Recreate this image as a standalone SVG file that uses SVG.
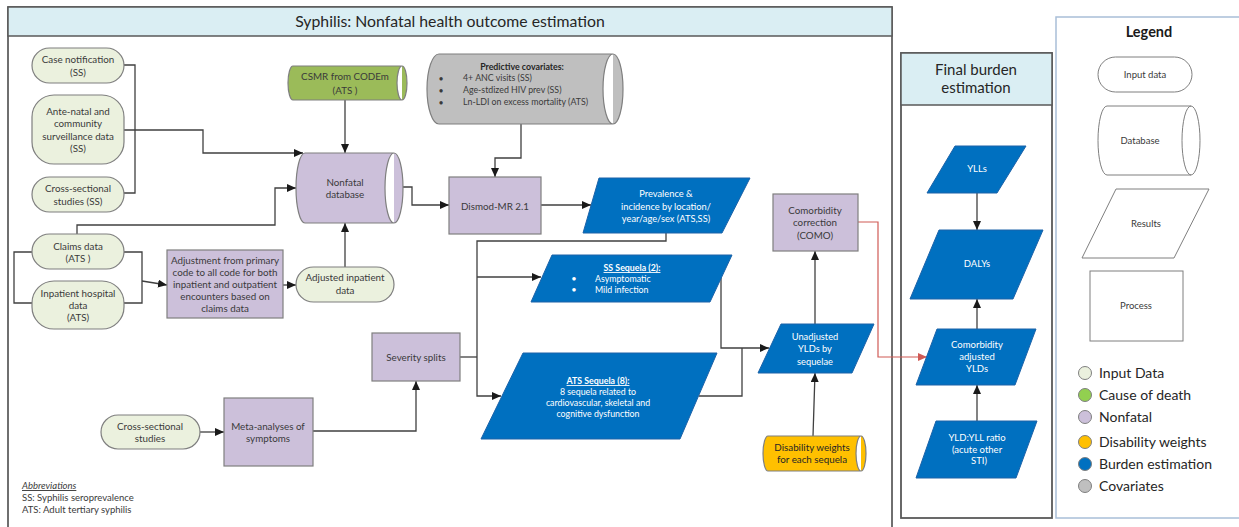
<svg xmlns="http://www.w3.org/2000/svg" width="1239" height="527" viewBox="0 0 1239 527">
<style>
text{font-family:Lato,"Liberation Sans",Arial,sans-serif;font-size:9.8px;fill:#3a3a3a;text-anchor:middle}
.w{fill:#ffffff;font-size:9.3px}
.s{text-anchor:start}
.b{font-weight:bold}
.u{text-decoration:underline}
.h{font-size:15px;fill:#262626}
.lg{font-size:14px;fill:#262626;text-anchor:start}
.sm{font-size:9.5px}
.cv{font-size:8.8px}
.inp{fill:#ebf1de;stroke:#7f7f7f;stroke-width:1.2}
.pur{fill:#ccc0da;stroke:#7f7f7f;stroke-width:1.2}
.blu{fill:#0070c0;stroke:#1c62a8;stroke-width:1}
.leg{fill:#ffffff;stroke:#7f7f7f;stroke-width:1}
.c{fill:none;stroke:#404040;stroke-width:1.3}
.r{fill:none;stroke:#d05a55;stroke-width:1.2}
.band{fill:#daeef3;stroke:#595959;stroke-width:1.5}
</style>
<defs>
<marker id="a" markerUnits="userSpaceOnUse" markerWidth="9" markerHeight="8" refX="9" refY="4" viewBox="0 0 9 8" orient="auto"><path d="M0,0 L9,4 L0,8 z" fill="#1a1a1a"/></marker>
<marker id="ar" markerUnits="userSpaceOnUse" markerWidth="9" markerHeight="8" refX="9" refY="4" viewBox="0 0 9 8" orient="auto"><path d="M0,0 L9,4 L0,8 z" fill="#d05a55"/></marker>
</defs>
<rect width="1239" height="527" fill="#ffffff"/>

<g id="frame-main">
<rect x="8" y="7" width="884" height="540" fill="#ffffff" stroke="#404040" stroke-width="1.5"/>
<rect x="8" y="7" width="884" height="29" class="band"/>
<text x="450" y="27" class="h" style="font-size:15.8px">Syphilis: Nonfatal health outcome estimation</text>
</g>
<g id="frame-final">
<rect x="901" y="53" width="151" height="465" fill="#ffffff" stroke="#595959" stroke-width="1.8"/>
<rect x="901" y="53" width="151" height="52" class="band"/>
<text x="976" y="75" class="h">Final burden</text>
<text x="976" y="93" class="h">estimation</text>
</g>
<g id="frame-legend">
<rect x="1056" y="17" width="190" height="501" fill="#ffffff" stroke="#a9bfd8" stroke-width="1.5"/>
<text x="1149" y="37" class="b" style="font-size:14.5px;fill:#1a1a1a">Legend</text>
<rect x="1098" y="57" width="94" height="35" rx="17.5" class="leg"/>
<text x="1145" y="78" class="sm">Input data</text>
<path d="M1107,106 L1191,106 A9,34.5 0 0 1 1191,175 L1107,175 A9,34.5 0 0 1 1107,106 Z M1191,106 A9,34.5 0 0 0 1191,175" class="leg"/>
<text x="1140" y="144" class="sm">Database</text>
<path d="M1116,189 L1209,189 L1174,258 L1082,258 Z" class="leg"/>
<text x="1146" y="227" class="sm">Results</text>
<rect x="1090" y="271" width="93" height="70" class="leg"/>
<text x="1136" y="309" class="sm">Process</text>
<circle cx="1085" cy="373" r="6.5" fill="#ebf1de" stroke="#7f7f7f"/>
<text x="1099" y="378" class="lg">Input Data</text>
<circle cx="1085" cy="395" r="6.5" fill="#92d050" stroke="#7f7f7f"/>
<text x="1099" y="400" class="lg">Cause of death</text>
<circle cx="1085" cy="417" r="6.5" fill="#ccc0da" stroke="#7f7f7f"/>
<text x="1099" y="422" class="lg">Nonfatal</text>
<circle cx="1085" cy="442" r="6.5" fill="#ffc000" stroke="#7f7f7f"/>
<text x="1099" y="447" class="lg">Disability weights</text>
<circle cx="1085" cy="464" r="6.5" fill="#0070c0" stroke="#7f7f7f"/>
<text x="1099" y="469" class="lg">Burden estimation</text>
<circle cx="1085" cy="486" r="6.5" fill="#bfbfbf" stroke="#7f7f7f"/>
<text x="1099" y="491" class="lg">Covariates</text>
</g>

<g id="connectors">
<polyline points="124,65 135,65 135,193 124,193" class="c"/>
<polyline points="124,130 203,130 203,153 303,153" class="c" marker-end="url(#a)"/>
<polyline points="77,234 77,225 275,225 275,188 296,188" class="c" marker-end="url(#a)"/>
<polyline points="345,100 345,153" class="c" marker-end="url(#a)"/>
<polyline points="345,267 345,223" class="c" marker-end="url(#a)"/>
<polyline points="32,252 14,252 14,303 33,303" class="c"/>
<polyline points="124,252 142,252 142,303 124,303" class="c"/>
<polyline points="142,281 167,285" class="c" marker-end="url(#a)"/>
<polyline points="283,285 296,285" class="c" marker-end="url(#a)"/>
<polyline points="200,432 224,432" class="c" marker-end="url(#a)"/>
<polyline points="313,431 416,431 416,381" class="c" marker-end="url(#a)"/>
<polyline points="521,124 521,158 495,158 495,177" class="c" marker-end="url(#a)"/>
<polyline points="403,187 412,187 412,205 449,205" class="c" marker-end="url(#a)"/>
<polyline points="541,205 591,205" class="c" marker-end="url(#a)"/>
<polyline points="666,233 666,241 477,241 477,396 501,396" class="c" marker-end="url(#a)"/>
<polyline points="477,277 541,277" class="c" marker-end="url(#a)"/>
<polyline points="460,357 477,357" class="c"/>
<polyline points="721,278 721,348 769,348" class="c" marker-end="url(#a)"/>
<polyline points="699,396 742,396 742,348" class="c"/>
<polyline points="815,324 815,251" class="c" marker-end="url(#a)"/>
<polyline points="813,436 815,373" class="c" marker-end="url(#a)"/>
<polyline points="858,222 878,222 878,357 927,357" class="r" marker-end="url(#ar)"/>
<polyline points="977,193 977,230" class="c" marker-end="url(#a)"/>
<polyline points="977,329 977,299" class="c" marker-end="url(#a)"/>
<polyline points="977,421 977,385" class="c" marker-end="url(#a)"/>
</g>

<g id="case-notification">
<rect x="32" y="48" width="92" height="35" rx="17.5" class="inp"/>
<text x="78" y="63">Case notification</text>
<text x="78" y="76">(SS)</text>
</g>
<g id="antenatal">
<rect x="32" y="95" width="92" height="69" rx="22" class="inp"/>
<text x="78" y="115">Ante-natal and</text>
<text x="78" y="127">community</text>
<text x="78" y="140">surveillance data</text>
<text x="78" y="152">(SS)</text>
</g>
<g id="cross-sectional-ss">
<rect x="32" y="177" width="92" height="35" rx="17.5" class="inp"/>
<text x="78" y="192">Cross-sectional</text>
<text x="78" y="205">studies (SS)</text>
</g>
<g id="claims-data">
<rect x="32" y="234" width="92" height="35" rx="17.5" class="inp"/>
<text x="78" y="250">Claims data</text>
<text x="78" y="262">(ATS )</text>
</g>
<g id="inpatient-data">
<rect x="32" y="281" width="92" height="48" rx="22" class="inp"/>
<text x="78" y="297">Inpatient hospital</text>
<text x="78" y="309">data</text>
<text x="78" y="321">(ATS)</text>
</g>
<g id="adjustment">
<rect x="167" y="250" width="116" height="68" class="pur"/>
<text x="225" y="264">Adjustment from primary</text>
<text x="225" y="276">code to all code for both</text>
<text x="225" y="288">inpatient and outpatient</text>
<text x="225" y="300">encounters based on</text>
<text x="225" y="312">claims data</text>
</g>
<g id="adjusted-inpatient">
<rect x="296" y="267" width="98" height="35" rx="17.5" class="inp"/>
<text x="345" y="281">Adjusted inpatient</text>
<text x="345" y="294">data</text>
</g>
<g id="csmr">
<path d="M293,66 L402,66 A5,17 0 0 1 402,100 L293,100 A5,17 0 0 1 293,66 Z M402,66 A5,17 0 0 0 402,100" fill="#9bbb59" stroke="#7f7f7f" stroke-width="1.2"/>
<text x="345" y="80">CSMR from CODEm</text>
<text x="345" y="94">(ATS )</text>
</g>
<g id="nonfatal-db">
<path d="M305,153 L394,153 A9,35 0 0 1 394,223 L305,223 A9,35 0 0 1 305,153 Z M394,153 A9,35 0 0 0 394,223" class="pur"/>
<text x="345" y="186">Nonfatal</text>
<text x="345" y="198">database</text>
</g>
<g id="covariates">
<path d="M439,54 L613,54 A10,35 0 0 1 613,124 L439,124 A12,35 0 0 1 439,54 Z M613,54 A10,35 0 0 0 613,124" fill="#bfbfbf" stroke="#7f7f7f" stroke-width="1.2"/>
<text x="522" y="70" class="b cv" style="fill:#262626">Predictive covariates:</text>
<text x="441" y="82" class="cv">•</text><text x="463" y="81" class="s cv">4+ ANC visits (SS)</text>
<text x="441" y="94" class="cv">•</text><text x="463" y="93" class="s cv">Age-stdized HIV prev (SS)</text>
<text x="441" y="106" class="cv">•</text><text x="463" y="105" class="s cv">Ln-LDI on excess mortality (ATS)</text>
</g>
<g id="dismod">
<rect x="449" y="177" width="92" height="57" class="pur"/>
<text x="495" y="209.5">Dismod-MR 2.1</text>
</g>
<g id="prevalence">
<path d="M599,178 L750,178 L722,233 L583,233 Z" class="blu"/>
<text x="666" y="197" class="w">Prevalence &amp;</text>
<text x="666" y="210" class="w">incidence by location/</text>
<text x="666" y="222" class="w">year/age/sex (ATS,SS)</text>
</g>
<g id="ss-sequela">
<path d="M552,255 L732,255 L710,302 L531,302 Z" class="blu"/>
<text x="632" y="271" class="w b u" style="font-size:8.8px">SS Sequela (2):</text>
<text x="574" y="282" class="w">•</text><text x="595" y="282" class="w s" style="font-size:8.8px">Asymptomatic</text>
<text x="574" y="293" class="w">•</text><text x="595" y="293" class="w s" style="font-size:8.8px">Mild infection</text>
</g>
<g id="ats-sequela">
<path d="M523,353 L717,353 L680,439 L481,439 Z" class="blu"/>
<text x="598" y="384" class="w b u" style="font-size:8.8px">ATS Sequela (8):</text>
<text x="598" y="395" class="w" style="font-size:8.8px">8 sequela related to</text>
<text x="598" y="406" class="w" style="font-size:8.8px">cardiovascular, skeletal and</text>
<text x="598" y="417" class="w" style="font-size:8.8px">cognitive dysfunction</text>
</g>
<g id="severity-splits">
<rect x="372" y="333" width="88" height="48" class="pur"/>
<text x="416" y="361">Severity splits</text>
</g>
<g id="cross-sectional">
<rect x="101" y="415" width="99" height="34" rx="17" class="inp"/>
<text x="150" y="430">Cross-sectional</text>
<text x="150" y="442">studies</text>
</g>
<g id="meta-analyses">
<rect x="224" y="398" width="89" height="68" class="pur"/>
<text x="268" y="430">Meta-analyses of</text>
<text x="268" y="442">symptoms</text>
</g>
<g id="abbreviations">
<text x="22" y="489" class="s u" style="font-size:9.5px;font-style:italic">Abbreviations</text>
<text x="22" y="501" class="s" style="font-size:9.5px">SS: Syphilis seroprevalence</text>
<text x="22" y="513" class="s" style="font-size:9.5px">ATS: Adult tertiary syphilis</text>
</g>
<g id="como">
<rect x="773" y="194" width="85" height="57" class="pur"/>
<text x="815" y="214">Comorbidity</text>
<text x="815" y="226">correction</text>
<text x="815" y="239">(COMO)</text>
</g>
<g id="unadjusted-ylds">
<path d="M781,324 L874,324 L852,373 L758,373 Z" class="blu"/>
<text x="815" y="340" class="w">Unadjusted</text>
<text x="815" y="352" class="w">YLDs by</text>
<text x="815" y="365" class="w">sequelae</text>
</g>
<g id="disability-weights">
<path d="M768,436 L861,436 A5,17.5 0 0 1 861,471 L768,471 A5,17.5 0 0 1 768,436 Z M861,436 A5,17.5 0 0 0 861,471" fill="#ffc000" stroke="#7f7f7f" stroke-width="1.2"/>
<text x="812" y="451" style="fill:#262626">Disability weights</text>
<text x="812" y="463" style="fill:#262626">for each sequela</text>
</g>
<g id="ylls">
<path d="M955,146 L1026,146 L997,193 L927,193 Z" class="blu"/>
<text x="977" y="172" class="w sm">YLLs</text>
</g>
<g id="dalys">
<path d="M939,230 L1043,230 L1013,299 L910,299 Z" class="blu"/>
<text x="977" y="267" class="w sm">DALYs</text>
</g>
<g id="comorbidity-adjusted">
<path d="M937,329 L1036,329 L1015,385 L916,385 Z" class="blu"/>
<text x="977" y="348" class="w sm">Comorbidity</text>
<text x="977" y="360" class="w sm">adjusted</text>
<text x="977" y="372" class="w sm">YLDs</text>
</g>
<g id="yld-yll-ratio">
<path d="M936,421 L1037,421 L1016,478 L916,478 Z" class="blu"/>
<text x="977" y="441" class="w sm">YLD:YLL ratio</text>
<text x="977" y="453" class="w sm">(acute other</text>
<text x="979" y="464" class="w sm">STI)</text>
</g>
</svg>
